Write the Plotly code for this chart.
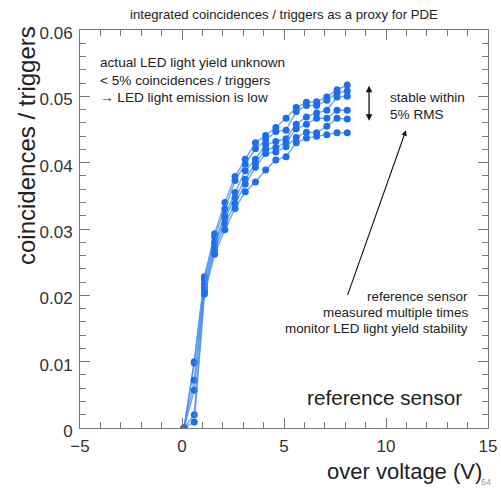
import plotly.graph_objects as go

# ---- data ----
over_voltage = [0.1, 0.6, 1.1, 1.6, 2.1, 2.6, 3.1, 3.6, 4.1, 4.6, 5.1, 5.6, 6.1, 6.6, 7.1, 7.6, 8.1]

run_1 = [0.0, 0.0100, 0.0228, 0.0293, 0.0340, 0.0379, 0.0405, 0.0430, 0.0441, 0.0453, 0.0467, 0.0483, 0.0491, 0.0492, 0.0499, 0.0510, 0.0517]
run_2 = [0.0, 0.0098, 0.0224, 0.0288, 0.0330, 0.0373, 0.0398, 0.0421, 0.0434, 0.0447, 0.0449, 0.0477, 0.0486, 0.0486, 0.0494, 0.0505, 0.0508]
run_3 = [0.0, 0.0072, 0.0218, 0.0280, 0.0321, 0.0355, 0.0388, 0.0405, 0.0427, 0.0432, 0.0436, 0.0458, 0.0469, 0.0475, 0.0479, 0.0499, 0.0500]
run_4 = [0.0, 0.0057, 0.0212, 0.0274, 0.0316, 0.0347, 0.0375, 0.0399, 0.0420, 0.0423, 0.0430, 0.0451, 0.0458, 0.0467, 0.0467, 0.0479, 0.0479]
run_5 = [0.0, 0.0020, 0.0207, 0.0268, 0.0308, 0.0338, 0.0368, 0.0393, 0.0414, 0.0416, 0.0424, 0.0438, 0.0446, 0.0445, 0.0455, 0.0467, 0.0466]
run_6 = [0.0, 0.0009, 0.0202, 0.0262, 0.0299, 0.0331, 0.0356, 0.0371, 0.0389, 0.0404, 0.0409, 0.0430, 0.0437, 0.0440, 0.0442, 0.0445, 0.0445]
runs = [run_1, run_2, run_3, run_4, run_5, run_6]

x_ticks = [-5, 0, 5, 10, 15]
x_ticktext = ["\u22125", "0", "5", "10", "15"]
y_ticks = [0, 0.01, 0.02, 0.03, 0.04, 0.05, 0.06]
y_ticktext = ["0", "0.01", "0.02", "0.03", "0.04", "0.05", "0.06"]

FONT = "Liberation Sans, Arial, Helvetica, sans-serif"
TXT = "#222222"
AX = "#777777"

fig = go.Figure()
for r in runs:
    fig.add_trace(go.Scatter(
        x=over_voltage, y=r, mode="lines+markers",
        line=dict(color="rgba(70,140,240,0.75)", width=1.5),
        marker=dict(color="rgb(30,110,235)", size=7),
        showlegend=False, hoverinfo="skip"))

W, H = 501, 488
L, R, T, B = 80, 488, 30, 428

def px(xp):
    return (xp - L) / (R - L)

def py(yp):
    return (B - yp) / (B - T)

ann = []
def text(s, x, y, size, xanchor="left", color=TXT, angle=0):
    ann.append(dict(text=s, x=px(x), y=py(y), xref="paper", yref="paper",
                    xanchor=xanchor, yanchor="middle", showarrow=False,
                    textangle=angle, borderpad=0,
                    font=dict(family=FONT, size=size, color=color)))

text("integrated coincidences / triggers as a proxy for PDE", 284, 14, 13.2, "center")
text("actual LED light yield unknown", 99, 63, 13.6)
text("&lt; 5% coincidences / triggers", 99, 80, 13.6)
text("\u2192 LED light emission is low", 99, 97, 13.6)
text("stable within", 389, 97, 13.6)
text("5% RMS", 389, 114, 13.6)
text("reference sensor", 469, 296, 13.4, "right")
text("measured multiple times", 469, 312, 13.4, "right")
text("monitor LED light yield stability", 469, 328, 13.4, "right")
text("reference sensor", 463, 397, 20.7, "right")
text("over voltage (V)", 483, 471, 22, "right")
text("64", 492, 482, 9, "right", color="#999999")
text("coincidences / triggers", 26, 146, 24, "center", angle=-90)

# double arrow (stability band) and pointer arrow, in data coordinates
ann.append(dict(x=9.17, y=0.0516, ax=9.17, ay=0.0461, xref="x", yref="y",
                axref="x", ayref="y", text="", showarrow=True,
                arrowhead=2, startarrowhead=2, arrowside="end+start",
                arrowsize=1, arrowwidth=1.3, arrowcolor="#111111"))
ann.append(dict(x=10.98, y=0.0449, ax=8.09, ay=0.0198, xref="x", yref="y",
                axref="x", ayref="y", text="", showarrow=True,
                arrowhead=2, arrowsize=1, arrowwidth=1.1, arrowcolor="#111111"))

fig.update_layout(
    width=W, height=H,
    margin=dict(l=L, r=W - R, t=T, b=H - B, pad=0, autoexpand=False),
    paper_bgcolor="white", plot_bgcolor="white",
    annotations=ann,
    font=dict(family=FONT, color=TXT),
)
fig.update_xaxes(
    range=[-5, 15], tickvals=x_ticks, ticktext=x_ticktext,
    ticks="inside", ticklen=10, tickcolor=AX, tickwidth=1,
    minor=dict(dtick=1, ticks="inside", ticklen=6, tickcolor=AX, showgrid=False),
    showline=True, linecolor=AX, linewidth=1, mirror="ticks",
    showgrid=False, zeroline=False, automargin=False, ticklabelstandoff=3,
    tickfont=dict(family=FONT, size=17, color="#333333"))
fig.update_yaxes(
    range=[0, 0.06], tickvals=y_ticks, ticktext=y_ticktext,
    ticks="inside", ticklen=10, tickcolor=AX, tickwidth=1,
    minor=dict(dtick=0.002, ticks="inside", ticklen=6, tickcolor=AX, showgrid=False),
    showline=True, linecolor=AX, linewidth=1, mirror="ticks",
    showgrid=False, zeroline=False, automargin=False,
    ticklabelshift=3, ticklabelstandoff=3,
    tickfont=dict(family=FONT, size=17, color="#333333"))

fig.write_html("out.html")
